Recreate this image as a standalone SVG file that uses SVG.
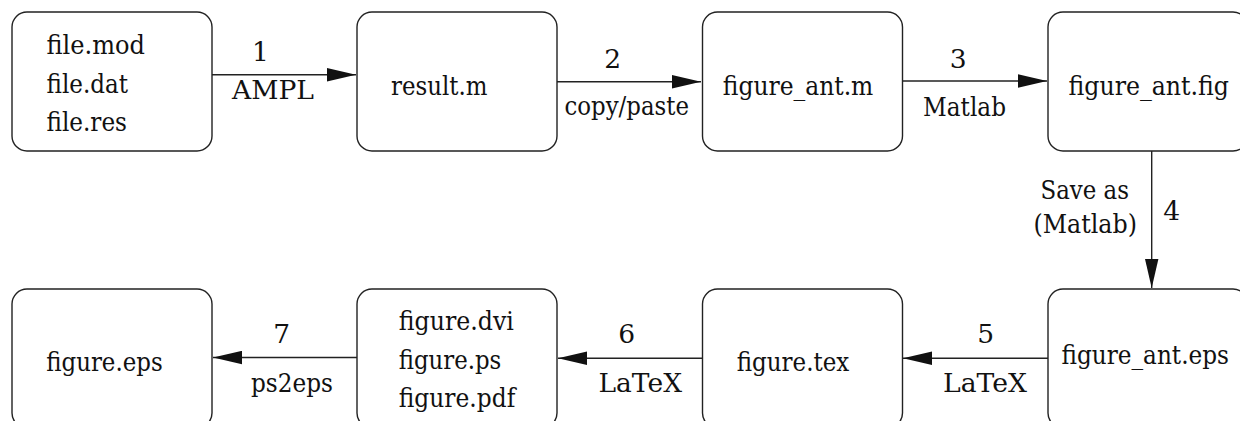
<svg xmlns="http://www.w3.org/2000/svg" width="1240" height="421" viewBox="0 0 1240 421">
<style>
.box{fill:#fff;stroke:#222;stroke-width:1.4}
.m{text-anchor:middle}
.e{stroke:#222;stroke-width:1.4;fill:none}
text{font-family:"DejaVu Serif",serif;font-size:26.5px;fill:#111}
</style>
<defs>
<marker id="ah" markerUnits="userSpaceOnUse" markerWidth="30" markerHeight="14" refX="29" refY="7" orient="auto">
<path d="M0,0.3 L29,7 L0,13.7 Z" fill="#111"/>
</marker>
</defs>
<rect width="1240" height="421" fill="#fff"/>
<g id="connectors">
<line class="e" x1="212" y1="74.7" x2="356" y2="74.7" marker-end="url(#ah)"/>
<line class="e" x1="557" y1="81.7" x2="701" y2="81.7" marker-end="url(#ah)"/>
<line class="e" x1="902" y1="81" x2="1047" y2="81" marker-end="url(#ah)"/>
<line class="e" x1="1151.7" y1="151" x2="1151.7" y2="288" marker-end="url(#ah)"/>
<line class="e" x1="1048" y1="358.3" x2="903" y2="358.3" marker-end="url(#ah)"/>
<line class="e" x1="702" y1="358.3" x2="558" y2="358.3" marker-end="url(#ah)"/>
<line class="e" x1="357" y1="357.5" x2="213" y2="357.5" marker-end="url(#ah)"/>
<text class="m" x="260.5" y="61">1</text>
<text x="232" y="99.3" textLength="82" lengthAdjust="spacingAndGlyphs">AMPL</text>
<text class="m" x="612.7" y="67.7">2</text>
<text x="564.5" y="115" textLength="124.5" lengthAdjust="spacingAndGlyphs">copy/paste</text>
<text class="m" x="958.3" y="68">3</text>
<text x="923" y="116" textLength="83" lengthAdjust="spacingAndGlyphs">Matlab</text>
<text x="1040.5" y="199" textLength="88.5" lengthAdjust="spacingAndGlyphs">Save as</text>
<text x="1033.5" y="233" textLength="103.5" lengthAdjust="spacingAndGlyphs">(Matlab)</text>
<text class="m" x="1171.7" y="220">4</text>
<text class="m" x="985.7" y="343.3">5</text>
<text x="943" y="391.7" textLength="84" lengthAdjust="spacingAndGlyphs">LaTeX</text>
<text class="m" x="626.7" y="343.3">6</text>
<text x="598.5" y="391.7" textLength="83.5" lengthAdjust="spacingAndGlyphs">LaTeX</text>
<text class="m" x="281.7" y="343">7</text>
<text x="251" y="391.7" textLength="82" lengthAdjust="spacingAndGlyphs">ps2eps</text>
</g>
<g id="n-files">
<rect class="box" x="12" y="12" width="200" height="139" rx="15"/>
<text x="46.5" y="54" textLength="98.5" lengthAdjust="spacingAndGlyphs">file.mod</text>
<text x="46.5" y="92.5" textLength="81.5" lengthAdjust="spacingAndGlyphs">file.dat</text>
<text x="46.5" y="130.7" textLength="80.5" lengthAdjust="spacingAndGlyphs">file.res</text>
</g>
<g id="n-result">
<rect class="box" x="357" y="12" width="200" height="139" rx="15"/>
<text x="391" y="95" textLength="96.5" lengthAdjust="spacingAndGlyphs">result.m</text>
</g>
<g id="n-figant-m">
<rect class="box" x="702.5" y="12" width="200" height="139" rx="15"/>
<text x="722.8" y="95" textLength="150.5" lengthAdjust="spacingAndGlyphs">figure_ant.m</text>
</g>
<g id="n-figant-fig">
<rect class="box" x="1048" y="12" width="200" height="139" rx="15"/>
<text x="1068.5" y="95" textLength="160.5" lengthAdjust="spacingAndGlyphs">figure_ant.fig</text>
</g>
<g id="n-figant-eps">
<rect class="box" x="1048" y="289" width="200" height="139" rx="15"/>
<text x="1061.5" y="364" textLength="167.5" lengthAdjust="spacingAndGlyphs">figure_ant.eps</text>
</g>
<g id="n-figtex">
<rect class="box" x="702.5" y="289" width="200" height="139" rx="15"/>
<text x="736.8" y="371" textLength="112.5" lengthAdjust="spacingAndGlyphs">figure.tex</text>
</g>
<g id="n-figdvi">
<rect class="box" x="357" y="289" width="200" height="139" rx="15"/>
<text x="398.8" y="330" textLength="115" lengthAdjust="spacingAndGlyphs">figure.dvi</text>
<text x="398.8" y="369" textLength="102.5" lengthAdjust="spacingAndGlyphs">figure.ps</text>
<text x="398.8" y="407.3" textLength="116.5" lengthAdjust="spacingAndGlyphs">figure.pdf</text>
</g>
<g id="n-figeps">
<rect class="box" x="12" y="289" width="200" height="139" rx="15"/>
<text x="46.2" y="370.7" textLength="116.5" lengthAdjust="spacingAndGlyphs">figure.eps</text>
</g>
</svg>
